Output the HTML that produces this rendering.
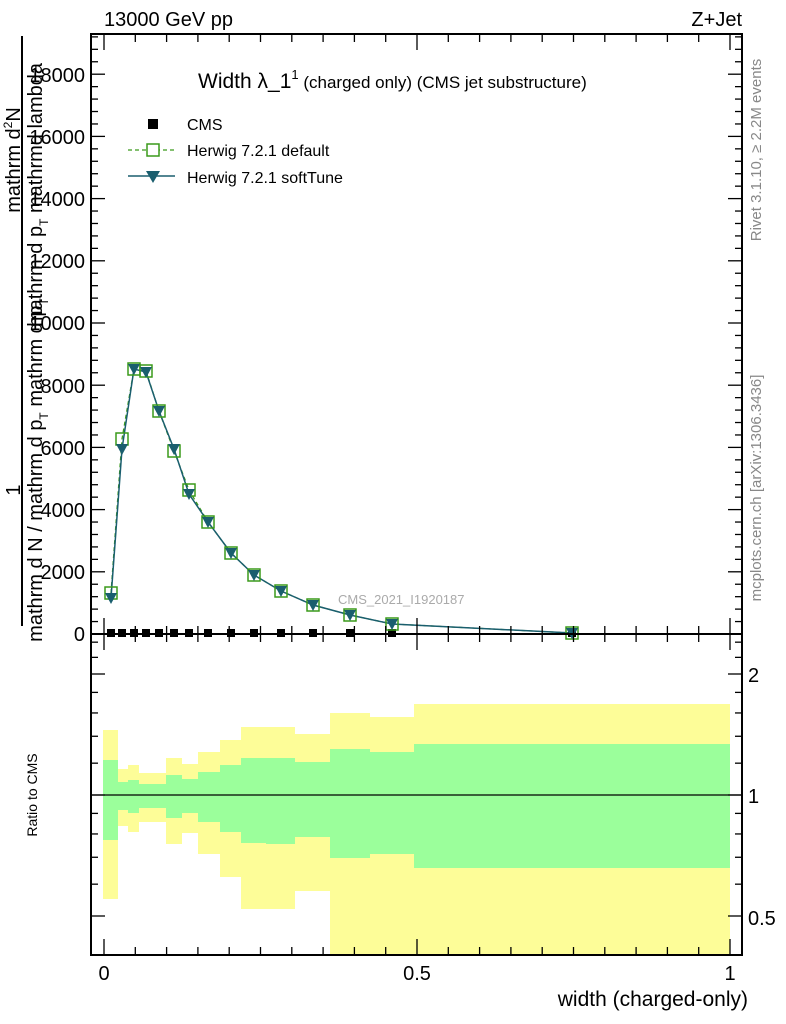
<!DOCTYPE html>
<html><head><meta charset="utf-8"><style>
body{margin:0;background:#fff}
svg{display:block;font-family:"Liberation Sans",sans-serif}
</style></head><body>
<svg id="s" width="786" height="1024" viewBox="0 0 786 1024" xmlns="http://www.w3.org/2000/svg">
<text x="104" y="26" font-size="20">13000 GeV pp</text>
<text x="742" y="26" font-size="20" text-anchor="end">Z+Jet</text>
<text transform="translate(761,150) rotate(-90)" font-size="15" fill="#888" text-anchor="middle">Rivet 3.1.10, ≥ 2.2M events</text>
<text transform="translate(761,488) rotate(-90)" font-size="15" fill="#888" text-anchor="middle">mcplots.cern.ch [arXiv:1306.3436]</text>
<g id="bands"></g>
<line x1="91" y1="795" x2="742" y2="795" stroke="#000" stroke-width="1.3"/>
<polyline fill="none" stroke="#3a9a1a" stroke-width="1.3" stroke-dasharray="4,3" points="111,593 122,439 134,369 146,371 159,411 174,451 189,490 208,522 231,553 254,575 281,591 313,605 350,615 392,624 572,633"/>
<polyline fill="none" stroke="#1a5e6e" stroke-width="1.5" points="111,598 122,449 134,369 146,372 159,411 174,449 189,494 208,522 231,553 254,575 281,591 313,605 350,615 392,624 572,633"/>
<g id="marks"></g>
<text x="338" y="604" font-size="13" fill="#aaa">CMS_2021_I1920187</text>
<text x="198" y="88" font-size="21">Width λ_1<tspan font-size="13" dy="-9">1</tspan><tspan font-size="17" dy="9"> (charged only) (CMS jet substructure)</tspan></text>
<rect x="148" y="119" width="10" height="10" fill="#000"/>
<text x="187" y="130" font-size="16">CMS</text>
<line x1="128" y1="150" x2="175" y2="150" stroke="#3a9a1a" stroke-width="1.3" stroke-dasharray="4,3"/>
<rect x="147" y="144" width="12" height="12" fill="#fff" stroke="#3a9a1a" stroke-width="1.5"/>
<text x="187" y="156" font-size="16">Herwig 7.2.1 default</text>
<line x1="128" y1="176" x2="175" y2="176" stroke="#1a5e6e" stroke-width="1.5"/>
<path d="M146,171 L160,171 L153,183 Z" fill="#1a5e6e"/>
<text x="187" y="183" font-size="16">Herwig 7.2.1 softTune</text>
<rect x="91" y="34" width="651" height="600" fill="none" stroke="#000" stroke-width="2"/>
<rect x="91" y="634" width="651" height="321" fill="none" stroke="#000" stroke-width="2"/>
<g id="ticks" stroke="#000" stroke-width="1.3"></g>
<g font-size="20" text-anchor="end">
<text x="85" y="641">0</text><text x="85" y="579">2000</text><text x="85" y="517">4000</text><text x="85" y="455">6000</text><text x="85" y="393">8000</text><text x="85" y="330">10000</text><text x="85" y="268">12000</text><text x="85" y="206">14000</text><text x="85" y="144">16000</text><text x="85" y="82">18000</text>
</g>
<g font-size="20">
<text x="748" y="682">2</text><text x="748" y="803">1</text><text x="748" y="925">0.5</text>
</g>
<g font-size="20" text-anchor="middle">
<text x="104" y="980">0</text><text x="417" y="980">0.5</text><text x="730" y="980">1</text>
</g>
<text x="748" y="1006" font-size="21" text-anchor="end">width (charged-only)</text>
<text transform="translate(37,795) rotate(-90)" font-size="14" text-anchor="middle">Ratio to CMS</text>
<line x1="22" y1="36" x2="22" y2="626" stroke="#000" stroke-width="2"/>
<text transform="translate(20,160) rotate(-90)" font-size="20" text-anchor="middle">mathrm d<tspan font-size="12" dy="-8">2</tspan><tspan dy="8">N</tspan></text>
<text transform="translate(42,195) rotate(-90)" font-size="20" text-anchor="middle">mathrm d p<tspan font-size="12" dy="6">T</tspan><tspan dy="-6"> mathrmd lambda</tspan></text>
<text transform="translate(20,490) rotate(-90)" font-size="20" text-anchor="middle">1</text>
<text transform="translate(42,470) rotate(-90)" font-size="20" text-anchor="middle">mathrm d N / mathrm d p<tspan font-size="12" dy="6">T</tspan><tspan dy="-6"> mathrm d p</tspan><tspan font-size="12" dy="6">T</tspan></text>
</svg>
<script>
var NS="http://www.w3.org/2000/svg";
function el(p,t,a){var e=document.createElementNS(NS,t);for(var k in a)e.setAttribute(k,a[k]);document.getElementById(p).appendChild(e);return e;}
var B=[[103,118,730,899,760,840],[118,128,769,826,782,810],[128,139,765,832,780,813],[139,166,773,822,784,808],[166,182,758,844,775,818],[182,198,764,833,779,813],[198,220,752,854,772,822],[220,241,740,877,765,832],[241,266,727,909,758,843],[266,295,727,909,758,844],[295,330,734,891,762,837],[330,370,713,955,749,858],[370,414,717,940,752,854],[414,730,704,955,744,868]];
B.forEach(function(b){
 el("bands","rect",{x:b[0],y:b[2],width:b[1]-b[0],height:b[3]-b[2],fill:"#fdfd98"});
 el("bands","rect",{x:b[0],y:b[4],width:b[1]-b[0],height:b[5]-b[4],fill:"#9bff9b"});
});
el("bands","rect",{x:330,y:940,width:84,height:15,fill:"#fdfd98"});
var D=[[111,593,598],[122,439,449],[134,369,369],[146,371,372],[159,411,411],[174,451,449],[189,490,494],[208,522,522],[231,553,553],[254,575,575],[281,591,591],[313,605,605],[350,615,615],[392,624,624],[572,633,633]];
D.forEach(function(d){
 el("marks","rect",{x:d[0]-4,y:629,width:8,height:8,fill:"#000"});
 el("marks","rect",{x:d[0]-6,y:d[1]-6,width:12,height:12,fill:"none",stroke:"#3a9a1a","stroke-width":1.5});
 el("marks","path",{d:"M"+(d[0]-6)+","+(d[2]-5)+" l12,0 l-6,11 z",fill:"#1a5e6e"});
});
function L(a,b,c,d){el("ticks","line",{x1:a,y1:b,x2:c,y2:d});}
for(var i=0;i<=50;i++){var v=i*400,y=634-v*0.0311;if(y<35)break;var len=(i%5==0)?14:7;L(91,y,91+len,y);L(742,y,742-len,y);}
for(var i=0;i<=20;i++){var x=104+i*31.3;var len=(i%10==0)?16:8;L(x,634,x,634-len);L(x,34,x,34+len);L(x,955,x,955-len);L(x,634,x,634+len);}
var rv=[0.4,0.5,0.6,0.7,0.8,0.9,1,1.2,1.4,1.6,1.8,2,2.2,2.4];
rv.forEach(function(v){var y=795-121*Math.log2(v);var len=(v==0.5||v==1||v==2)?14:7;L(91,y,91+len,y);L(742,y,742-len,y);});
</script>
</body></html>
